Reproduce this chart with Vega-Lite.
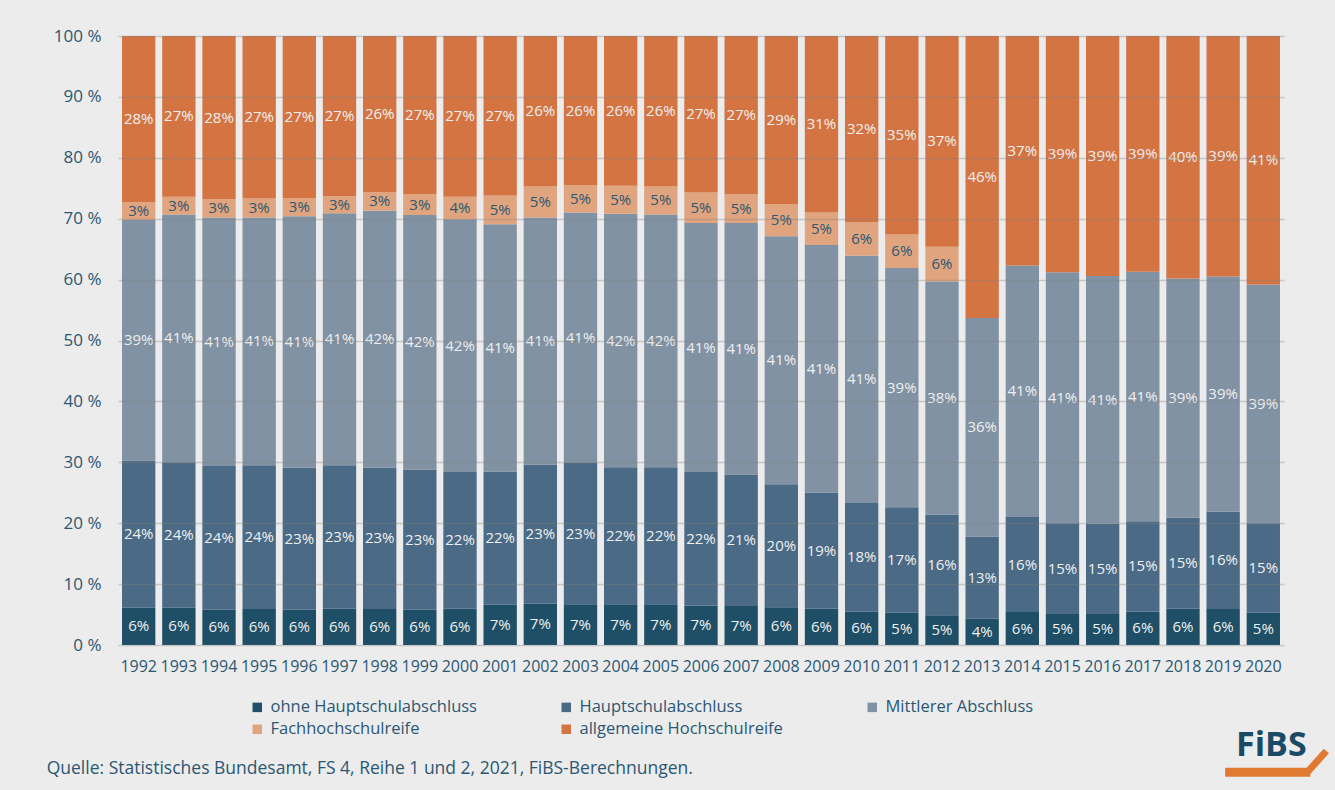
{
  "$schema": "https://vega.github.io/schema/vega-lite/v6.json",
  "width": 1166,
  "height": 609,
  "autosize": {"type": "none"},
  "padding": {"left": 118, "top": 36, "right": 51, "bottom": 145},
  "background": "#ececec",
  "config": {
    "view": {"stroke": null},
    "font": "Open Sans",
    "axis": {"labelFont": "Open Sans", "labelColor": "#2b5773"}
  },
  "datasets": {
    "main": [
      {"year": "1992", "cat": "ohne Hauptschulabschluss", "v": 6.1, "lbl": "6%"},
      {"year": "1992", "cat": "Hauptschulabschluss", "v": 24.2, "lbl": "24%"},
      {"year": "1992", "cat": "Mittlerer Abschluss", "v": 39.5, "lbl": "39%"},
      {"year": "1992", "cat": "Fachhochschulreife", "v": 2.9, "lbl": "3%"},
      {"year": "1992", "cat": "allgemeine Hochschulreife", "v": 27.3, "lbl": "28%"},
      {"year": "1993", "cat": "ohne Hauptschulabschluss", "v": 6.1, "lbl": "6%"},
      {"year": "1993", "cat": "Hauptschulabschluss", "v": 23.9, "lbl": "24%"},
      {"year": "1993", "cat": "Mittlerer Abschluss", "v": 40.7, "lbl": "41%"},
      {"year": "1993", "cat": "Fachhochschulreife", "v": 2.9, "lbl": "3%"},
      {"year": "1993", "cat": "allgemeine Hochschulreife", "v": 26.4, "lbl": "27%"},
      {"year": "1994", "cat": "ohne Hauptschulabschluss", "v": 5.8, "lbl": "6%"},
      {"year": "1994", "cat": "Hauptschulabschluss", "v": 23.6, "lbl": "24%"},
      {"year": "1994", "cat": "Mittlerer Abschluss", "v": 40.8, "lbl": "41%"},
      {"year": "1994", "cat": "Fachhochschulreife", "v": 3.0, "lbl": "3%"},
      {"year": "1994", "cat": "allgemeine Hochschulreife", "v": 26.8, "lbl": "28%"},
      {"year": "1995", "cat": "ohne Hauptschulabschluss", "v": 5.9, "lbl": "6%"},
      {"year": "1995", "cat": "Hauptschulabschluss", "v": 23.6, "lbl": "24%"},
      {"year": "1995", "cat": "Mittlerer Abschluss", "v": 40.7, "lbl": "41%"},
      {"year": "1995", "cat": "Fachhochschulreife", "v": 3.1, "lbl": "3%"},
      {"year": "1995", "cat": "allgemeine Hochschulreife", "v": 26.7, "lbl": "27%"},
      {"year": "1996", "cat": "ohne Hauptschulabschluss", "v": 5.8, "lbl": "6%"},
      {"year": "1996", "cat": "Hauptschulabschluss", "v": 23.3, "lbl": "23%"},
      {"year": "1996", "cat": "Mittlerer Abschluss", "v": 41.3, "lbl": "41%"},
      {"year": "1996", "cat": "Fachhochschulreife", "v": 3.0, "lbl": "3%"},
      {"year": "1996", "cat": "allgemeine Hochschulreife", "v": 26.6, "lbl": "27%"},
      {"year": "1997", "cat": "ohne Hauptschulabschluss", "v": 6.0, "lbl": "6%"},
      {"year": "1997", "cat": "Hauptschulabschluss", "v": 23.5, "lbl": "23%"},
      {"year": "1997", "cat": "Mittlerer Abschluss", "v": 41.4, "lbl": "41%"},
      {"year": "1997", "cat": "Fachhochschulreife", "v": 2.8, "lbl": "3%"},
      {"year": "1997", "cat": "allgemeine Hochschulreife", "v": 26.3, "lbl": "27%"},
      {"year": "1998", "cat": "ohne Hauptschulabschluss", "v": 5.9, "lbl": "6%"},
      {"year": "1998", "cat": "Hauptschulabschluss", "v": 23.2, "lbl": "23%"},
      {"year": "1998", "cat": "Mittlerer Abschluss", "v": 42.2, "lbl": "42%"},
      {"year": "1998", "cat": "Fachhochschulreife", "v": 3.1, "lbl": "3%"},
      {"year": "1998", "cat": "allgemeine Hochschulreife", "v": 25.6, "lbl": "26%"},
      {"year": "1999", "cat": "ohne Hauptschulabschluss", "v": 5.8, "lbl": "6%"},
      {"year": "1999", "cat": "Hauptschulabschluss", "v": 23.0, "lbl": "23%"},
      {"year": "1999", "cat": "Mittlerer Abschluss", "v": 41.8, "lbl": "42%"},
      {"year": "1999", "cat": "Fachhochschulreife", "v": 3.4, "lbl": "3%"},
      {"year": "1999", "cat": "allgemeine Hochschulreife", "v": 26.0, "lbl": "27%"},
      {"year": "2000", "cat": "ohne Hauptschulabschluss", "v": 6.0, "lbl": "6%"},
      {"year": "2000", "cat": "Hauptschulabschluss", "v": 22.4, "lbl": "22%"},
      {"year": "2000", "cat": "Mittlerer Abschluss", "v": 41.5, "lbl": "42%"},
      {"year": "2000", "cat": "Fachhochschulreife", "v": 3.7, "lbl": "4%"},
      {"year": "2000", "cat": "allgemeine Hochschulreife", "v": 26.4, "lbl": "27%"},
      {"year": "2001", "cat": "ohne Hauptschulabschluss", "v": 6.6, "lbl": "7%"},
      {"year": "2001", "cat": "Hauptschulabschluss", "v": 21.9, "lbl": "22%"},
      {"year": "2001", "cat": "Mittlerer Abschluss", "v": 40.6, "lbl": "41%"},
      {"year": "2001", "cat": "Fachhochschulreife", "v": 4.7, "lbl": "5%"},
      {"year": "2001", "cat": "allgemeine Hochschulreife", "v": 26.2, "lbl": "27%"},
      {"year": "2002", "cat": "ohne Hauptschulabschluss", "v": 6.8, "lbl": "7%"},
      {"year": "2002", "cat": "Hauptschulabschluss", "v": 22.8, "lbl": "23%"},
      {"year": "2002", "cat": "Mittlerer Abschluss", "v": 40.6, "lbl": "41%"},
      {"year": "2002", "cat": "Fachhochschulreife", "v": 5.1, "lbl": "5%"},
      {"year": "2002", "cat": "allgemeine Hochschulreife", "v": 24.7, "lbl": "26%"},
      {"year": "2003", "cat": "ohne Hauptschulabschluss", "v": 6.7, "lbl": "7%"},
      {"year": "2003", "cat": "Hauptschulabschluss", "v": 23.2, "lbl": "23%"},
      {"year": "2003", "cat": "Mittlerer Abschluss", "v": 41.1, "lbl": "41%"},
      {"year": "2003", "cat": "Fachhochschulreife", "v": 4.5, "lbl": "5%"},
      {"year": "2003", "cat": "allgemeine Hochschulreife", "v": 24.5, "lbl": "26%"},
      {"year": "2004", "cat": "ohne Hauptschulabschluss", "v": 6.7, "lbl": "7%"},
      {"year": "2004", "cat": "Hauptschulabschluss", "v": 22.5, "lbl": "22%"},
      {"year": "2004", "cat": "Mittlerer Abschluss", "v": 41.6, "lbl": "42%"},
      {"year": "2004", "cat": "Fachhochschulreife", "v": 4.6, "lbl": "5%"},
      {"year": "2004", "cat": "allgemeine Hochschulreife", "v": 24.6, "lbl": "26%"},
      {"year": "2005", "cat": "ohne Hauptschulabschluss", "v": 6.7, "lbl": "7%"},
      {"year": "2005", "cat": "Hauptschulabschluss", "v": 22.5, "lbl": "22%"},
      {"year": "2005", "cat": "Mittlerer Abschluss", "v": 41.5, "lbl": "42%"},
      {"year": "2005", "cat": "Fachhochschulreife", "v": 4.6, "lbl": "5%"},
      {"year": "2005", "cat": "allgemeine Hochschulreife", "v": 24.7, "lbl": "26%"},
      {"year": "2006", "cat": "ohne Hauptschulabschluss", "v": 6.5, "lbl": "7%"},
      {"year": "2006", "cat": "Hauptschulabschluss", "v": 21.9, "lbl": "22%"},
      {"year": "2006", "cat": "Mittlerer Abschluss", "v": 40.9, "lbl": "41%"},
      {"year": "2006", "cat": "Fachhochschulreife", "v": 5.0, "lbl": "5%"},
      {"year": "2006", "cat": "allgemeine Hochschulreife", "v": 25.7, "lbl": "27%"},
      {"year": "2007", "cat": "ohne Hauptschulabschluss", "v": 6.4, "lbl": "7%"},
      {"year": "2007", "cat": "Hauptschulabschluss", "v": 21.6, "lbl": "21%"},
      {"year": "2007", "cat": "Mittlerer Abschluss", "v": 41.3, "lbl": "41%"},
      {"year": "2007", "cat": "Fachhochschulreife", "v": 4.7, "lbl": "5%"},
      {"year": "2007", "cat": "allgemeine Hochschulreife", "v": 26.0, "lbl": "27%"},
      {"year": "2008", "cat": "ohne Hauptschulabschluss", "v": 6.2, "lbl": "6%"},
      {"year": "2008", "cat": "Hauptschulabschluss", "v": 20.2, "lbl": "20%"},
      {"year": "2008", "cat": "Mittlerer Abschluss", "v": 40.7, "lbl": "41%"},
      {"year": "2008", "cat": "Fachhochschulreife", "v": 5.3, "lbl": "5%"},
      {"year": "2008", "cat": "allgemeine Hochschulreife", "v": 27.6, "lbl": "29%"},
      {"year": "2009", "cat": "ohne Hauptschulabschluss", "v": 6.0, "lbl": "6%"},
      {"year": "2009", "cat": "Hauptschulabschluss", "v": 19.0, "lbl": "19%"},
      {"year": "2009", "cat": "Mittlerer Abschluss", "v": 40.7, "lbl": "41%"},
      {"year": "2009", "cat": "Fachhochschulreife", "v": 5.3, "lbl": "5%"},
      {"year": "2009", "cat": "allgemeine Hochschulreife", "v": 29.0, "lbl": "31%"},
      {"year": "2010", "cat": "ohne Hauptschulabschluss", "v": 5.5, "lbl": "6%"},
      {"year": "2010", "cat": "Hauptschulabschluss", "v": 17.8, "lbl": "18%"},
      {"year": "2010", "cat": "Mittlerer Abschluss", "v": 40.6, "lbl": "41%"},
      {"year": "2010", "cat": "Fachhochschulreife", "v": 5.5, "lbl": "6%"},
      {"year": "2010", "cat": "allgemeine Hochschulreife", "v": 30.6, "lbl": "32%"},
      {"year": "2011", "cat": "ohne Hauptschulabschluss", "v": 5.3, "lbl": "5%"},
      {"year": "2011", "cat": "Hauptschulabschluss", "v": 17.3, "lbl": "17%"},
      {"year": "2011", "cat": "Mittlerer Abschluss", "v": 39.3, "lbl": "39%"},
      {"year": "2011", "cat": "Fachhochschulreife", "v": 5.5, "lbl": "6%"},
      {"year": "2011", "cat": "allgemeine Hochschulreife", "v": 32.6, "lbl": "35%"},
      {"year": "2012", "cat": "ohne Hauptschulabschluss", "v": 4.9, "lbl": "5%"},
      {"year": "2012", "cat": "Hauptschulabschluss", "v": 16.5, "lbl": "16%"},
      {"year": "2012", "cat": "Mittlerer Abschluss", "v": 38.3, "lbl": "38%"},
      {"year": "2012", "cat": "Fachhochschulreife", "v": 5.7, "lbl": "6%"},
      {"year": "2012", "cat": "allgemeine Hochschulreife", "v": 34.6, "lbl": "37%"},
      {"year": "2013", "cat": "ohne Hauptschulabschluss", "v": 4.3, "lbl": "4%"},
      {"year": "2013", "cat": "Hauptschulabschluss", "v": 13.5, "lbl": "13%"},
      {"year": "2013", "cat": "Mittlerer Abschluss", "v": 35.9, "lbl": "36%"},
      {"year": "2013", "cat": "allgemeine Hochschulreife", "v": 46.3, "lbl": "46%"},
      {"year": "2014", "cat": "ohne Hauptschulabschluss", "v": 5.4, "lbl": "6%"},
      {"year": "2014", "cat": "Hauptschulabschluss", "v": 15.6, "lbl": "16%"},
      {"year": "2014", "cat": "Mittlerer Abschluss", "v": 41.3, "lbl": "41%"},
      {"year": "2014", "cat": "allgemeine Hochschulreife", "v": 37.7, "lbl": "37%"},
      {"year": "2015", "cat": "ohne Hauptschulabschluss", "v": 5.1, "lbl": "5%"},
      {"year": "2015", "cat": "Hauptschulabschluss", "v": 14.9, "lbl": "15%"},
      {"year": "2015", "cat": "Mittlerer Abschluss", "v": 41.2, "lbl": "41%"},
      {"year": "2015", "cat": "allgemeine Hochschulreife", "v": 38.8, "lbl": "39%"},
      {"year": "2016", "cat": "ohne Hauptschulabschluss", "v": 5.1, "lbl": "5%"},
      {"year": "2016", "cat": "Hauptschulabschluss", "v": 14.8, "lbl": "15%"},
      {"year": "2016", "cat": "Mittlerer Abschluss", "v": 40.7, "lbl": "41%"},
      {"year": "2016", "cat": "allgemeine Hochschulreife", "v": 39.4, "lbl": "39%"},
      {"year": "2017", "cat": "ohne Hauptschulabschluss", "v": 5.5, "lbl": "6%"},
      {"year": "2017", "cat": "Hauptschulabschluss", "v": 14.8, "lbl": "15%"},
      {"year": "2017", "cat": "Mittlerer Abschluss", "v": 41.0, "lbl": "41%"},
      {"year": "2017", "cat": "allgemeine Hochschulreife", "v": 38.7, "lbl": "39%"},
      {"year": "2018", "cat": "ohne Hauptschulabschluss", "v": 6.0, "lbl": "6%"},
      {"year": "2018", "cat": "Hauptschulabschluss", "v": 14.9, "lbl": "15%"},
      {"year": "2018", "cat": "Mittlerer Abschluss", "v": 39.3, "lbl": "39%"},
      {"year": "2018", "cat": "allgemeine Hochschulreife", "v": 39.8, "lbl": "40%"},
      {"year": "2019", "cat": "ohne Hauptschulabschluss", "v": 5.9, "lbl": "6%"},
      {"year": "2019", "cat": "Hauptschulabschluss", "v": 16.0, "lbl": "16%"},
      {"year": "2019", "cat": "Mittlerer Abschluss", "v": 38.6, "lbl": "39%"},
      {"year": "2019", "cat": "allgemeine Hochschulreife", "v": 39.5, "lbl": "39%"},
      {"year": "2020", "cat": "ohne Hauptschulabschluss", "v": 5.3, "lbl": "5%"},
      {"year": "2020", "cat": "Hauptschulabschluss", "v": 14.7, "lbl": "15%"},
      {"year": "2020", "cat": "Mittlerer Abschluss", "v": 39.2, "lbl": "39%"},
      {"year": "2020", "cat": "allgemeine Hochschulreife", "v": 40.8, "lbl": "41%"}
    ]
  },
  "layer": [
    {
      "data": {"name": "main"},
      "transform": [
        {"calculate": "indexof(['ohne Hauptschulabschluss','Hauptschulabschluss','Mittlerer Abschluss','Fachhochschulreife','allgemeine Hochschulreife'], datum.cat)", "as": "o"},
        {"stack": "v", "groupby": ["year"], "sort": [{"field": "o", "order": "ascending"}], "as": ["y0", "y1"]},
        {"calculate": "(datum.y0 + datum.y1) / 2", "as": "mid"}
      ],
      "encoding": {
        "x": {
          "field": "year", "type": "ordinal",
          "scale": {"paddingInner": 0.17, "paddingOuter": 0.1},
          "axis": {"title": null, "labelAngle": 0, "ticks": false, "domain": false, "labelFontSize": 16, "labelPadding": 13, "labelColor": "#2b5773"}
        }
      },
      "layer": [
        {
          "mark": {"type": "bar"},
          "encoding": {
            "y": {
              "field": "y0", "type": "quantitative",
              "scale": {"domain": [0, 100], "nice": false},
              "axis": {
                "title": null, "values": [0, 10, 20, 30, 40, 50, 60, 70, 80, 90, 100],
                "labelExpr": "datum.value + ' %'", "ticks": false, "domain": false,
                "labelFontSize": 17, "labelPadding": 17, "labelColor": "#2b5773",
                "grid": true, "gridColor": "#808080", "gridOpacity": 0.35, "gridWidth": 1.5, "zindex": 1
              }
            },
            "y2": {"field": "y1"},
            "color": {
              "field": "cat", "type": "nominal",
              "scale": {
                "domain": ["ohne Hauptschulabschluss", "Hauptschulabschluss", "Mittlerer Abschluss", "Fachhochschulreife", "allgemeine Hochschulreife"],
                "range": ["#1e4f66", "#4a6a85", "#8192a4", "#e0a57f", "#d47443"]
              },
              "legend": {
                "title": null, "orient": "none", "legendX": 131, "legendY": 663,
                "direction": "horizontal", "columns": 3, "columnPadding": 81, "rowPadding": 5,
                "symbolType": "square", "symbolSize": 90, "symbolStrokeWidth": 0, "symbolOpacity": 1,
                "labelFontSize": 16.5, "labelColor": "#2b5773", "labelFont": "Open Sans", "labelOffset": 5,
                "padding": 0, "labelLimit": 400
              }
            }
          }
        },
        {
          "mark": {"type": "text", "fontSize": 15, "baseline": "middle", "align": "center"},
          "encoding": {
            "y": {"field": "mid", "type": "quantitative"},
            "text": {"field": "lbl"},
            "color": {
              "condition": {"test": "datum.cat === 'Fachhochschulreife'", "value": "#2b5773"},
              "value": "#f0f0f0"
            }
          }
        }
      ]
    },
    {
      "data": {"values": [{}]},
      "mark": {"type": "text", "align": "left", "baseline": "middle", "fontSize": 17.5, "color": "#2b5773", "dx": -92},
      "encoding": {
        "x": {"datum": "1992", "type": "ordinal"},
        "y": {"datum": -20.4, "type": "quantitative"},
        "text": {"value": "Quelle: Statistisches Bundesamt, FS 4, Reihe 1 und 2, 2021, FiBS-Berechnungen."}
      }
    },
    {
      "data": {"values": [{}]},
      "mark": {"type": "text", "align": "center", "baseline": "middle", "fontSize": 34, "fontWeight": "bold", "color": "#1b4a66", "dx": 8},
      "encoding": {
        "x": {"datum": "2020", "type": "ordinal"},
        "y": {"datum": -16.6, "type": "quantitative"},
        "text": {"value": "FiBS"}
      }
    },
    {
      "data": {"values": [{}]},
      "mark": {"type": "rule", "color": "#e07a30", "strokeWidth": 9, "xOffset": 2, "x2Offset": 47},
      "encoding": {
        "x": {"datum": "2019", "type": "ordinal"},
        "x2": {"datum": "2020"},
        "y": {"datum": -20.9, "type": "quantitative"}
      }
    },
    {
      "data": {"values": [{}]},
      "mark": {"type": "rule", "color": "#e07a30", "strokeWidth": 7, "xOffset": 44, "x2Offset": 63},
      "encoding": {
        "x": {"datum": "2020", "type": "ordinal"},
        "x2": {"datum": "2020"},
        "y": {"datum": -20.9, "type": "quantitative"},
        "y2": {"datum": -17.4}
      }
    }
  ]
}
